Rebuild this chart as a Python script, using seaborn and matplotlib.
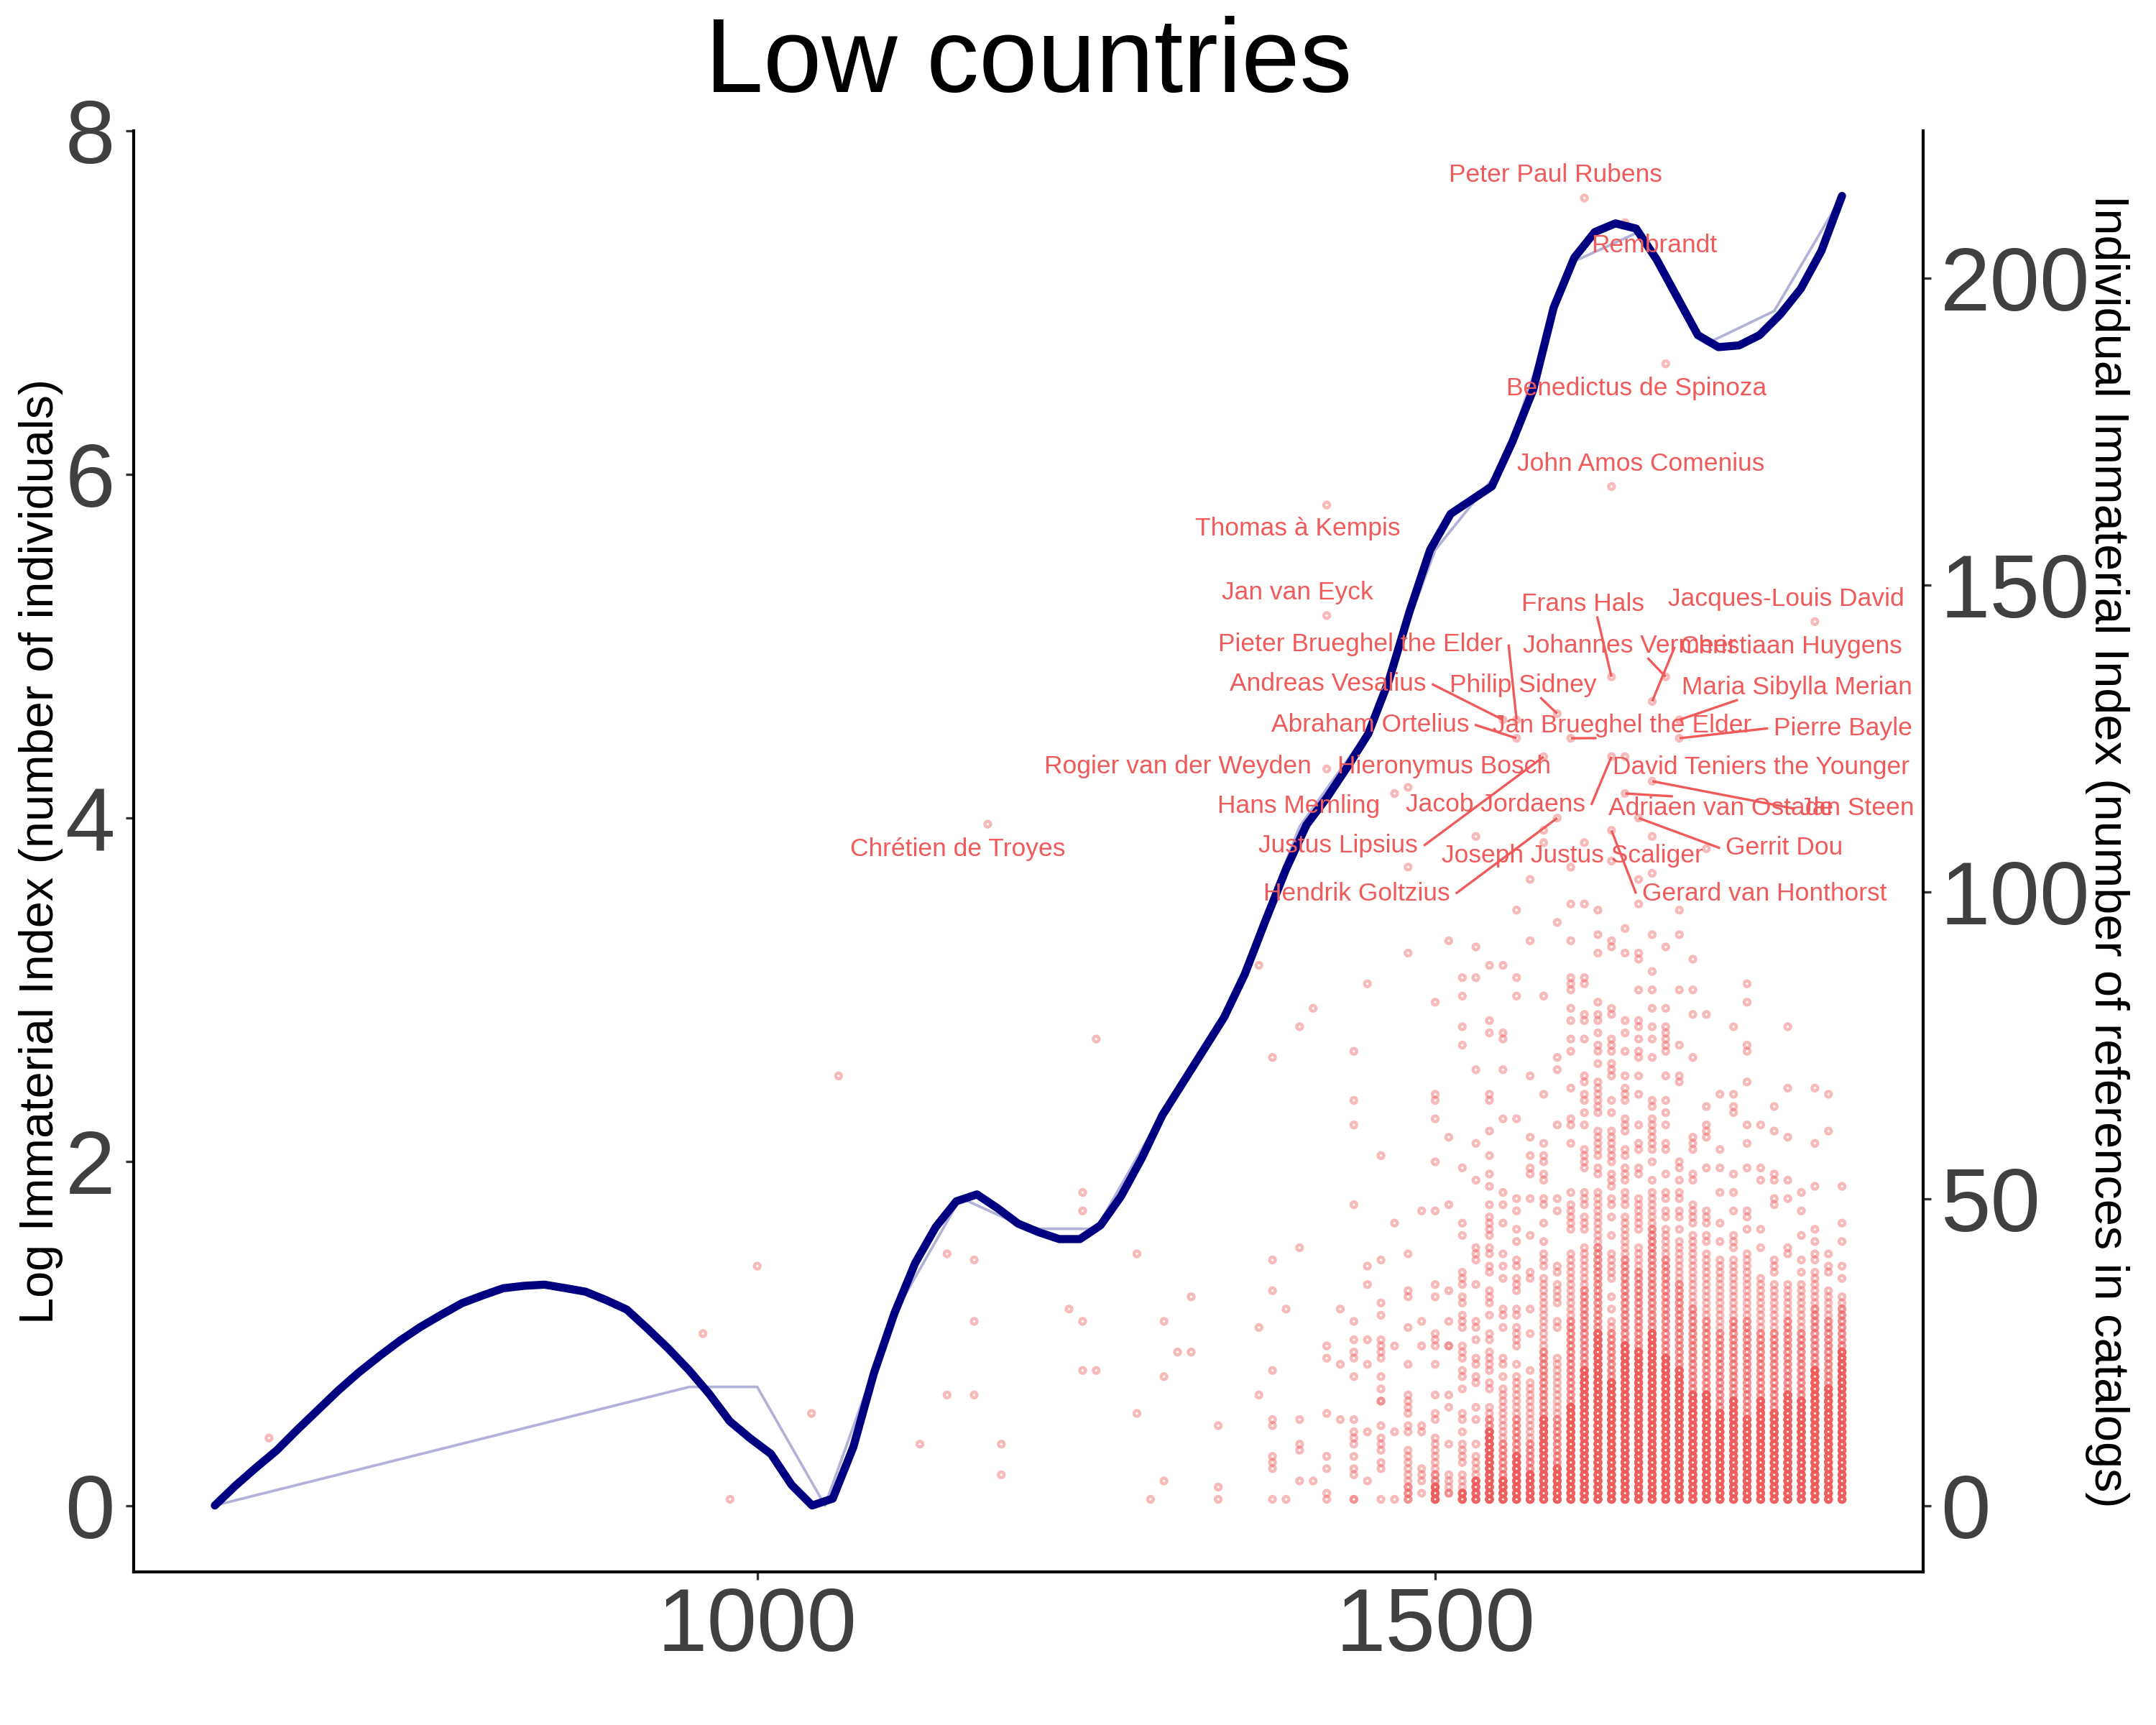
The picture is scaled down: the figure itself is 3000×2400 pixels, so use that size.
import numpy as np
import pandas as pd
import matplotlib
matplotlib.use("Agg")
import matplotlib.pyplot as plt
import seaborn as sns

# ---------------------------------------------------------------- data
TITLE = "Low countries"
Y_LEFT_LABEL = "Log Immaterial Index (number of individuals)"
Y_RIGHT_LABEL = "Individual Immaterial Index (number of references in catalogs)"

REF_SCALE = 28.0          # references per unit of the left (log) axis

# loess-smoothed log index, evaluated on an 80-point grid 600..1800
smooth_start, smooth_end, smooth_n = 600, 1800, 80
smooth_values = [
    0.00, 0.115, 0.22, 0.32, 0.44, 0.555, 0.67, 0.775, 0.87, 0.96,
    1.04, 1.11, 1.177, 1.222, 1.264, 1.278, 1.285, 1.265, 1.244, 1.195,
    1.14, 1.03, 0.915, 0.79, 0.65, 0.49, 0.39, 0.30, 0.12, 0.00,
    0.04, 0.34, 0.77, 1.12, 1.41, 1.62, 1.77, 1.81, 1.73, 1.64,
    1.59, 1.55, 1.55, 1.63, 1.80, 2.02, 2.27, 2.46, 2.65, 2.84,
    3.09, 3.40, 3.70, 3.96, 4.12, 4.30, 4.49, 4.80, 5.20, 5.56,
    5.77, 5.85, 5.93, 6.19, 6.49, 6.97, 7.26, 7.41, 7.46, 7.43,
    7.25, 7.03, 6.81, 6.74, 6.75, 6.81, 6.93, 7.08, 7.30, 7.62,
]

# raw log index per 50-year period
raw_years = [600, 950, 1000, 1050, 1100, 1150, 1200, 1250, 1300, 1350,
             1400, 1450, 1500, 1550, 1600, 1650, 1700, 1750, 1800]
raw_values = [0.0, 0.69, 0.69, 0.0, 1.10, 1.79, 1.61, 1.61, 2.30, 2.94,
              3.95, 4.50, 5.56, 6.05, 7.23, 7.41, 6.76, 6.95, 7.62]

# individuals: dense decade columns (every integer reference count filled)
col_years = [1400, 1410, 1420, 1430, 1440, 1450, 1460, 1470, 1480, 1490,
             1500, 1510, 1520, 1530, 1540, 1550, 1560, 1570, 1580, 1590,
             1600, 1610, 1620, 1630, 1640, 1650, 1660, 1670, 1680, 1690,
             1700, 1710, 1720, 1730, 1740, 1750, 1760, 1770, 1780, 1790, 1800]
col_fill = [0, 0, 0, 0, 0, 0, 0, 0, 9, 0,
            10, 0, 5, 7, 16, 19, 21, 20, 37, 24,
            40, 42, 51, 30, 47, 42, 51, 45, 43, 44,
            40, 40, 40, 41, 37, 36, 36, 36, 38, 35, 34]
col_mid = [0, 0, 0, 0, 0, 0, 0, 0, 3, 0,
           5, 0, 0, 0, 14, 10, 14, 10, 25, 14,
           30, 35, 42, 28, 40, 38, 45, 40, 36, 32,
           30, 28, 30, 30, 28, 28, 30, 28, 32, 30, 32]
col_dark = [0, 0, 0, 0, 0, 0, 0, 0, 0, 0,
            3, 0, 2, 4, 12, 4, 8, 5, 14, 6,
            16, 22, 28, 20, 26, 25, 28, 24, 22, 18,
            18, 15, 17, 14, 17, 15, 18, 17, 22, 19, 25]

# individuals outside the filled stacks: year -> reference counts
sparse_refs = {
    640: [11], 960: [28], 980: [1], 1000: [39], 1040: [15], 1060: [70],
    1120: [10], 1140: [41, 18], 1160: [40, 30, 18], 1180: [10, 5],
    1230: [32], 1240: [51, 48, 30, 22], 1250: [76, 22], 1280: [41, 15],
    1290: [1], 1300: [30, 21, 4], 1310: [25], 1320: [34, 25],
    1340: [13, 3, 1], 1370: [88, 29, 18],
    1380: [73, 40, 35, 22, 14, 13, 8, 7, 6, 1], 1390: [32, 1],
    1400: [4, 9, 10, 14, 42, 78],
    1410: [4, 81],
    1420: [1, 2, 6, 8, 15, 24, 26],
    1430: [14, 23, 32],
    1440: [1, 1, 5, 6, 8, 10, 11, 12, 14, 21, 24, 25, 27, 30, 49, 62, 66, 74],
    1450: [4, 12, 23, 27, 36, 39, 85],
    1460: [1, 6, 7, 9, 10, 11, 13, 17, 17, 19, 21, 24, 25, 26, 27, 31, 33, 40, 57],
    1470: [1, 12, 26, 46],
    1480: [12, 13, 15, 16, 17, 18, 23, 29, 34, 35, 41, 90, 104],
    1490: [2, 4, 5, 6, 12, 13, 26, 30, 48],
    1500: [11, 14, 15, 18, 23, 26, 27, 28, 34, 36, 48, 56, 63, 66, 67, 82],
    1510: [2, 2, 3, 4, 5, 10, 16, 18, 26, 26, 30, 35, 49, 60, 92],
    1520: [7, 8, 9, 10, 12, 14, 15, 19, 21, 22, 24, 25, 26, 29, 30, 31, 33, 34,
           36, 37, 38, 44, 46, 55, 75, 78, 83, 86],
    1530: [8, 10, 14, 16, 20, 21, 23, 24, 27, 29, 30, 36, 40, 41, 42, 53, 59,
           71, 86, 91, 109],
    1540: [19, 20, 22, 23, 24, 25, 27, 28, 31, 33, 34, 35, 38, 39, 41, 42, 44,
           45, 46, 47, 49, 52, 54, 57, 61, 66, 67, 77, 79, 88],
    1550: [21, 23, 24, 29, 31, 32, 37, 39, 41, 46, 49, 51, 63, 71, 76, 77, 88],
    1560: [23, 26, 27, 28, 29, 31, 32, 35, 36, 37, 39, 40, 43, 45, 48, 50, 63,
           83, 86, 97],
    1570: [22, 28, 32, 37, 38, 44, 50, 54, 55, 57, 60, 70, 92, 102],
    1580: [39, 40, 41, 43, 46, 49, 50, 53, 54, 56, 57, 59, 67, 83, 108],
    1590: [29, 30, 33, 34, 35, 36, 38, 39, 48, 50, 62, 71, 73, 95],
    1600: [41, 45, 46, 47, 48, 49, 51, 59, 62, 63, 68, 74, 76, 79, 81, 84, 85,
           86, 92, 98, 104],
    1610: [45, 46, 47, 49, 50, 51, 55, 56, 57, 58, 62, 64, 66, 67, 69, 70, 76,
           79, 80, 85, 86, 98, 108],
    1620: [54, 55, 57, 58, 59, 60, 61, 64, 65, 66, 67, 68, 69, 72, 74, 75, 77,
           79, 80, 82, 90, 93, 97],
    1630: [32, 34, 37, 38, 39, 40, 41, 44, 47, 49, 50, 52, 53, 54, 56, 57, 58,
           59, 60, 61, 64, 66, 70, 71, 72, 74, 75, 76, 80, 81, 91, 92, 105],
    1640: [49, 50, 51, 53, 54, 55, 57, 58, 61, 62, 63, 66, 67, 68, 70, 74, 77,
           79, 90, 94],
    1650: [45, 46, 47, 48, 49, 50, 54, 55, 58, 59, 62, 67, 70, 73, 74, 76, 78,
           79, 84, 89, 90, 98, 102],
    1660: [53, 56, 58, 59, 60, 61, 62, 63, 65, 66, 73, 76, 78, 81, 84, 87, 93,
           103, 109],
    1670: [47, 48, 50, 51, 54, 58, 59, 62, 64, 66, 70, 74, 75, 76, 77, 78, 81, 91],
    1680: [45, 47, 48, 50, 51, 53, 55, 56, 69, 70, 75, 84, 93, 97],
    1690: [46, 47, 48, 49, 53, 54, 58, 59, 60, 73, 80, 84, 89],
    1700: [41, 43, 44, 46, 47, 48, 55, 60, 61, 62, 65, 80, 107],
    1710: [43, 46, 51, 55, 58, 67],
    1720: [42, 43, 44, 48, 51, 54, 64, 65, 67, 78],
    1730: [45, 47, 48, 55, 59, 62, 69, 74, 75, 82, 85],
    1740: [42, 45, 53, 55, 62],
    1750: [38, 39, 40, 49, 50, 53, 54, 61, 65],
    1760: [41, 42, 50, 53, 60, 68, 78],
    1770: [38, 40, 44, 48, 51],
    1780: [40, 41, 43, 45, 52, 59, 68],
    1790: [38, 39, 41, 61, 67],
    1800: [37, 39, 43, 46, 52],
}

# labelled individuals: name, year, references
label_names = ["Peter Paul Rubens", "Rembrandt", "Benedictus de Spinoza",
               "John Amos Comenius", "Thomas à Kempis", "Jan van Eyck",
               "Jacques-Louis David", "Frans Hals", "Johannes Vermeer",
               "Christiaan Huygens", "Philip Sidney", "Pieter Brueghel the Elder",
               "Andreas Vesalius", "Maria Sibylla Merian", "Abraham Ortelius",
               "Jan Brueghel the Elder", "Pierre Bayle", "Jacob Jordaens",
               "David Teniers the Younger", "Justus Lipsius",
               "Rogier van der Weyden", "Jan Steen", "Hieronymus Bosch",
               "Hans Memling", "Adriaen van Ostade", "Gerrit Dou",
               "Hendrik Goltzius", "Chrétien de Troyes",
               "Joseph Justus Scaliger", "Gerard van Honthorst"]
label_years = [1610, 1640, 1670, 1630, 1420, 1420, 1780, 1630, 1670, 1660,
               1590, 1560, 1550, 1680, 1560, 1600, 1680, 1630, 1640, 1580,
               1420, 1660, 1480, 1470, 1640, 1650, 1590, 1170, 1580, 1630]
label_refs = [213, 209, 186, 166, 163, 145, 144, 135, 135, 131,
              129, 128, 128, 128, 125, 125, 125, 122, 122, 122,
              120, 118, 117, 116, 116, 112, 112, 111, 110, 110]

# where the repelled label text sits (data coordinates of its centre)
label_text_x = [1588.7, 1661.3, 1648.2, 1651.6, 1398.5, 1398.3, 1759.0, 1608.8,
                1643.2, 1762.7, 1564.9, 1445.0, 1420.8, 1766.5, 1451.9, 1638.0,
                1800.9, 1544.6, 1740.4, 1428.6, 1310.1, 1811.1, 1506.8, 1399.2,
                1710.6, 1757.5, 1442.1, 1148.1, 1601.4, 1742.6]
label_text_y = [7.741, 7.330, 6.501, 6.060, 5.683, 5.310, 5.276, 5.245,
                5.003, 4.996, 4.773, 5.010, 4.780, 4.759, 4.543, 4.536,
                4.522, 4.076, 4.294, 3.839, 4.301, 4.055, 4.301, 4.069,
                4.055, 3.825, 3.560, 3.818, 3.783, 3.560]

# ---------------------------------------------------------------- tables
rows = []
for yr, fill, mid, dark in zip(col_years, col_fill, col_mid, col_dark):
    for r in range(1, fill + 1):
        copies = 1 + (1 if r <= mid else 0) + (4 if r <= dark else 0)
        rows.extend([(yr, r)] * copies)
for yr, refs in sparse_refs.items():
    for r in refs:
        rows.append((yr, r))
for yr, r in zip(label_years, label_refs):
    rows.append((yr, r))
points = pd.DataFrame(rows, columns=["year", "refs"])
points["v"] = points["refs"] / REF_SCALE

smooth = pd.DataFrame({
    "year": np.linspace(smooth_start, smooth_end, smooth_n),
    "v": smooth_values,
})
raw = pd.DataFrame({"year": raw_years, "v": raw_values})

# ---------------------------------------------------------------- style
RED = "#F05A5A"
NAVY = "#000080"
TICK_GREY = "#404040"

sns.set_theme(style="ticks")
plt.rcParams["font.family"] = ["Liberation Sans", "DejaVu Sans"]

fig = plt.figure(figsize=(10, 8), dpi=300)
AX_L, AX_B, AX_W, AX_H = 0.0619, 0.0889, 0.8302, 0.8354
ax = fig.add_axes([AX_L, AX_B, AX_W, AX_H])

XLIM = (540, 1860)
YLIM = (-0.385, 8.0)

sns.scatterplot(data=points, x="year", y="v", ax=ax, marker="o", s=3.6,
                facecolor="none", edgecolor=RED, linewidth=1.05, alpha=0.42,
                legend=False, zorder=2)
sns.lineplot(data=raw, x="year", y="v", ax=ax, color=NAVY, alpha=0.3,
             linewidth=0.9, estimator=None, zorder=3)
sns.lineplot(data=smooth, x="year", y="v", ax=ax, color=NAVY,
             linewidth=2.7, estimator=None, zorder=4)

ax.set_xlim(*XLIM)
ax.set_ylim(*YLIM)
ax.set_xticks([1000, 1500])
ax.set_yticks([0, 2, 4, 6, 8])
ax.set_xlabel("")
ax.set_ylabel("")
for side in ["top", "right"]:
    ax.spines[side].set_visible(False)
for side in ["left", "bottom"]:
    ax.spines[side].set_linewidth(1.0)
    ax.spines[side].set_color("black")
ax.tick_params(axis="both", length=2.75, width=0.8, color="#333333",
               labelsize=30, labelcolor=TICK_GREY)
ax.tick_params(axis="y", pad=3.4)
ax.tick_params(axis="x", pad=2.2)

ax2 = ax.twinx()
ax2.set_ylim(YLIM[0] * REF_SCALE, YLIM[1] * REF_SCALE)
ax2.set_yticks([0, 50, 100, 150, 200])
for side in ["top", "left", "bottom"]:
    ax2.spines[side].set_visible(False)
ax2.spines["right"].set_linewidth(1.0)
ax2.spines["right"].set_color("black")
ax2.tick_params(axis="y", length=2.75, width=0.8, color="#333333",
                labelsize=30, labelcolor=TICK_GREY, pad=2.9)
ax2.set_ylabel("")

# ---------------------------------------------------------------- labels
texts = []
for name, tx, ty in zip(label_names, label_text_x, label_text_y):
    t = ax.text(tx, ty, name, color=RED, fontsize=8.5, ha="center",
                va="center", zorder=7)
    texts.append(t)

fig.canvas.draw()
renderer = fig.canvas.get_renderer()
PAD_X, HALF_H, MIN_LEN = 8.0, 17.0, 30.0
for t, yr, r in zip(texts, label_years, label_refs):
    bb = t.get_window_extent(renderer)
    x1, x2 = bb.x0 - PAD_X, bb.x1 + PAD_X
    cx, cy = (bb.x0 + bb.x1) / 2, (bb.y0 + bb.y1) / 2
    y1, y2 = cy - HALF_H, cy + HALF_H
    px, py = ax.transData.transform((yr, r / REF_SCALE))
    if px < x1:
        sx, sy = x1, cy
    elif px > x2:
        sx, sy = x2, cy
    elif py < y1:
        sx, sy = (cx + px) / 2, y1
    elif py > y2:
        sx, sy = (cx + px) / 2, y2
    else:
        continue
    if np.hypot(px - sx, py - sy) < MIN_LEN:
        continue
    (dx0, dy0), (dx1, dy1) = ax.transData.inverted().transform([(sx, sy), (px, py)])
    ax.plot([dx0, dx1], [dy0, dy1], color=RED, linewidth=0.8, zorder=6,
            solid_capstyle="butt")

# ---------------------------------------------------------------- titles
ax_cx = AX_L + AX_W / 2
ax_cy = AX_B + AX_H / 2
fig.text(ax_cx, 0.9468, TITLE, fontsize=35, color="black", ha="center",
         va="baseline")
fig.text(0.019, ax_cy, Y_LEFT_LABEL, fontsize=16, color="black",
         rotation=90, ha="center", va="center")
fig.text(0.9772, ax_cy, Y_RIGHT_LABEL, fontsize=16, color="black",
         rotation=270, ha="center", va="center")

fig.savefig("out.png", dpi=300)
